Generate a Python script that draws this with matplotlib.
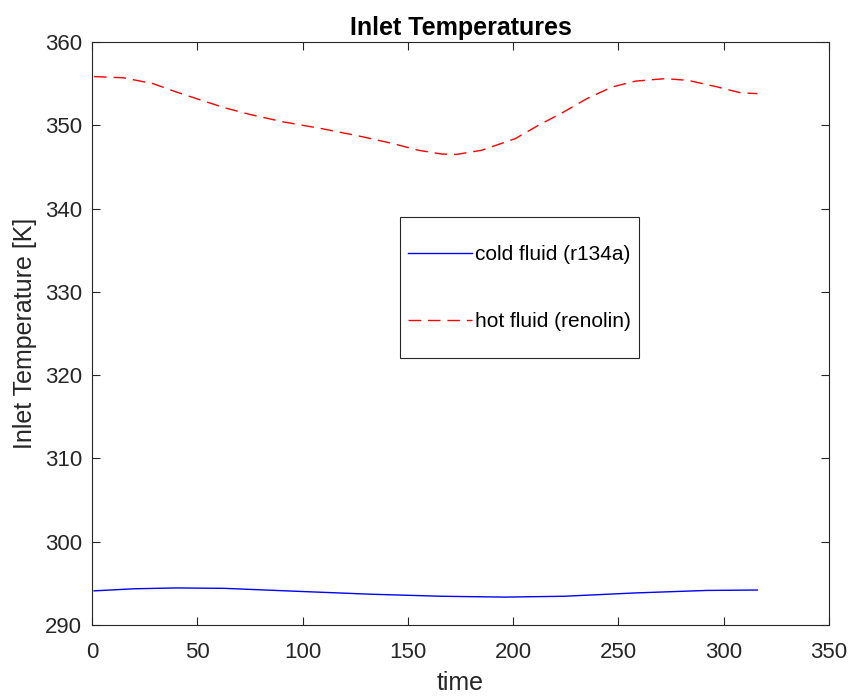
import matplotlib
matplotlib.use('Agg')
import matplotlib.pyplot as plt
from matplotlib.patches import Rectangle

# hot fluid (renolin) inlet temperature
hot_t = [1, 15, 29, 40, 52, 63, 75, 91, 109, 127, 143, 155, 166, 173, 185, 201,
         212, 224, 235, 247, 258, 272, 283, 297, 308, 316]
hot_T = [355.85, 355.7, 355.0, 354.0, 353.0, 352.1, 351.3, 350.4, 349.6, 348.7,
         347.8, 347.0, 346.55, 346.5, 347.0, 348.4, 350.0, 351.6, 353.2, 354.6,
         355.3, 355.6, 355.4, 354.6, 353.9, 353.8]

# cold fluid (r134a) inlet temperature
cold_t = [1, 20, 40, 63, 97, 132, 166, 196, 224, 258, 292, 316]
cold_T = [294.1, 294.35, 294.45, 294.4, 294.05, 293.7, 293.45, 293.35, 293.45,
          293.85, 294.15, 294.2]

plt.rcParams['font.family'] = ['Liberation Sans', 'DejaVu Sans']
dark = (0.15, 0.15, 0.15)

fig = plt.figure(figsize=(8.54, 7.0), dpi=100)
ax = fig.add_axes([92 / 854, 1 - 625 / 700, 737 / 854, 583 / 700])

ax.plot(cold_t, cold_T, color='blue', lw=1.0, label='cold fluid (r134a)')
ax.plot(hot_t, hot_T, color='red', lw=1.0, dashes=(9, 5), label='hot fluid (renolin)')

ax.set_xlim(0, 350)
ax.set_ylim(290, 360)
ax.set_xticks(range(0, 351, 50))
ax.set_yticks(range(290, 361, 10))
ax.tick_params(direction='in', top=True, right=True, length=6, width=0.8,
               labelsize=16, colors=dark)
ax.tick_params(axis='x', pad=12)
ax.tick_params(axis='y', pad=7)
for s in ax.spines.values():
    s.set_color(dark)
    s.set_linewidth(0.8)

ax.set_xlabel('time', fontsize=18, color=dark, labelpad=6)
ax.set_ylabel('Inlet Temperature [K]', fontsize=18, color=dark, labelpad=6)
ax.set_title('Inlet Temperatures', fontsize=18, fontweight='bold', pad=5)

# legend box (MATLAB style: narrow sides, tall)
ax.add_patch(Rectangle((0.418, 0.458), 0.324, 0.242, transform=ax.transAxes,
                       facecolor='white', edgecolor=dark, lw=0.8, zorder=4))
leg = ax.legend(loc='center', bbox_to_anchor=(0.580, 0.578), fontsize=15,
                frameon=False, handlelength=3.1, labelspacing=2.3, borderpad=0,
                handletextpad=0.15, borderaxespad=0)
leg.set_zorder(5)

fig.savefig('out.png', dpi=100)
